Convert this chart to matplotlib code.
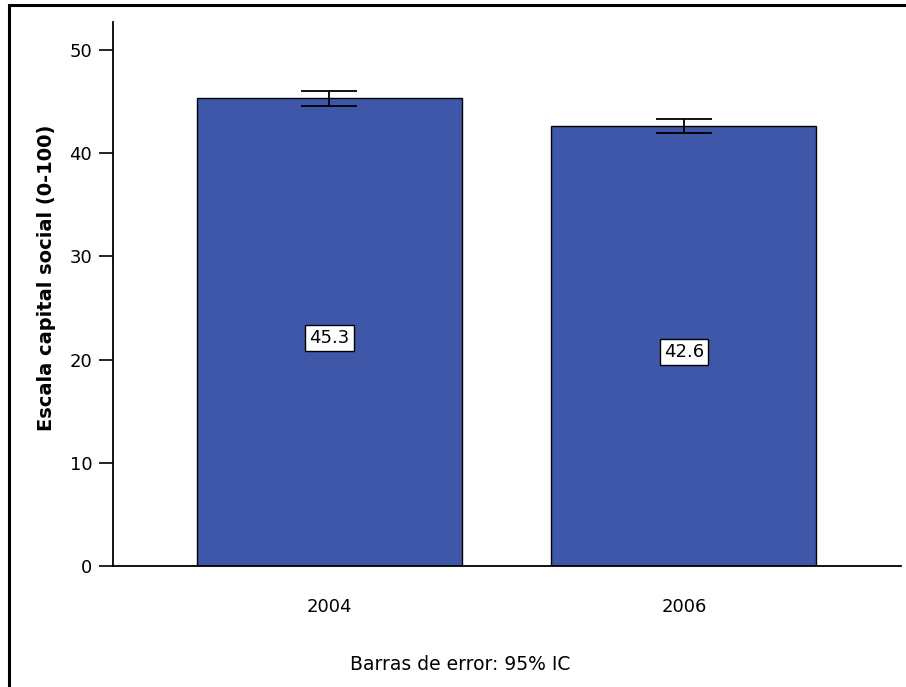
import matplotlib
matplotlib.use("Agg")
import matplotlib.pyplot as plt
from matplotlib.patches import Rectangle

years = ["2004", "2006"]
means = [45.3, 42.6]
ci_low = [44.6, 41.9]
ci_high = [46.0, 43.3]
yticks = [0, 10, 20, 30, 40, 50]

bar_color = "#3F57A8"

fig = plt.figure(figsize=(9.06, 6.87), dpi=100)
W, H = 906, 687
ax = fig.add_axes([113 / W, 1 - 566 / H, 788 / W, 544 / H])

# outer frame (runs off the right and bottom edges)
fig.patches.append(Rectangle((9 / W, -0.05), 1.1, 1 - 5 / H + 0.05,
                             transform=fig.transFigure, fill=False,
                             edgecolor="black", linewidth=2.2))

x = list(range(len(years)))
err_lo = [m - l for m, l in zip(means, ci_low)]
err_hi = [h - m for m, h in zip(means, ci_high)]
ax.bar(x, means, width=0.7475, color=bar_color, edgecolor="black", linewidth=1.0, zorder=2)
ax.errorbar(x, means, yerr=[err_lo, err_hi], fmt="none", ecolor="black",
            elinewidth=1.3, capsize=20, capthick=1.3, zorder=3)

for xi, m in zip(x, means):
    ax.text(xi, m / 2 - 0.6, f"{m:.1f}", ha="center", va="center", fontsize=13,
            bbox=dict(boxstyle="square,pad=0.22", facecolor="white", edgecolor="black", linewidth=1))

ax.set_xlim(-0.6107, 1.6122)
ax.set_ylim(0, 52.7)
ax.set_yticks(yticks)
ax.set_xticks(x)
ax.set_xticklabels(years)
ax.tick_params(axis="y", length=10, width=1.2, labelsize=13, pad=5)
ax.tick_params(axis="x", length=0, labelsize=13, pad=23)
for s in ["top", "right"]:
    ax.spines[s].set_visible(False)
for s in ["left", "bottom"]:
    ax.spines[s].set_linewidth(1.3)
ax.set_ylabel("Escala capital social (0-100)", fontsize=14, fontweight="bold", labelpad=10, y=0.53)

fig.text(460 / W, 1 - 665 / H, "Barras de error: 95% IC", ha="center", va="center", fontsize=13.5)

fig.savefig("out.png", dpi=100)
